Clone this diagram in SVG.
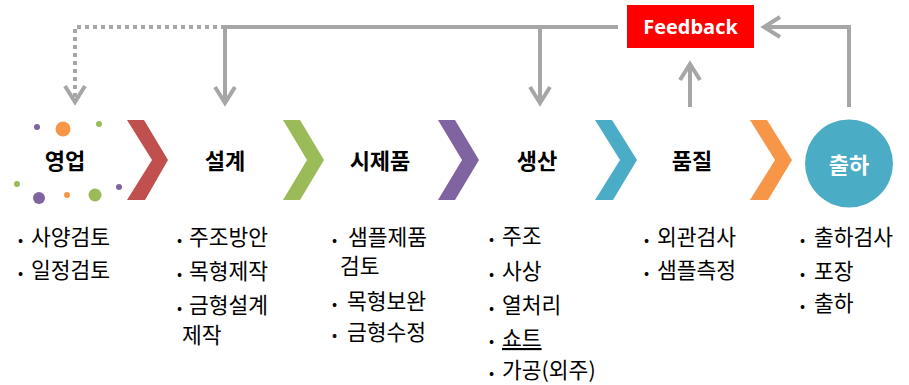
<svg xmlns="http://www.w3.org/2000/svg" width="909" height="385" viewBox="0 0 909 385">
<style>
.ln{fill:none;stroke:#A6A6A6;stroke-width:4}
.dot{stroke-dasharray:4 4}
.hd{font-family:"Noto Sans CJK KR","Noto Sans",sans-serif;font-weight:bold;font-size:22px;fill:#000;text-anchor:middle}
.bl{font-family:"Noto Sans CJK KR","Noto Sans",sans-serif;font-size:21.5px;fill:#000}
.bu{font-size:15px}
</style>
<rect width="909" height="385" fill="#fff"/>
<g id="connectors">
  <polyline class="ln dot" points="225,27 75,27 75,100"/>
  <polyline class="ln" points="65,86 75,102 85,86"/>
  <polyline class="ln" points="618,27 225,27 225,102"/>
  <polyline class="ln" points="215,87 225,103 235,87"/>
  <line class="ln" x1="540" y1="27" x2="540" y2="102"/>
  <polyline class="ln" points="530,87 540,103 550,87"/>
  <line class="ln" x1="690" y1="107" x2="690" y2="65"/>
  <polyline class="ln" points="680,80 690,64 700,80"/>
  <polyline class="ln" points="849,107 849,27 765,27"/>
  <polyline class="ln" points="780,17 764,27 780,37"/>
</g>
<g id="feedback">
  <rect x="627" y="5" width="127" height="43" fill="#FF0000"/>
  <text x="690.5" y="34" text-anchor="middle" font-family="'Open Sans','Noto Sans',sans-serif" font-weight="bold" font-size="20" fill="#fff">Feedback</text>
</g>
<g id="node-sales">
  <circle cx="37" cy="127" r="3" fill="#8064A2"/>
  <circle cx="63" cy="129" r="7.5" fill="#F79646"/>
  <circle cx="99" cy="124" r="3" fill="#9BBB59"/>
  <circle cx="17" cy="184" r="3" fill="#9BBB59"/>
  <circle cx="39" cy="198" r="6" fill="#8064A2"/>
  <circle cx="67" cy="195" r="3" fill="#F79646"/>
  <circle cx="95" cy="195" r="6.5" fill="#9BBB59"/>
  <circle cx="119" cy="187" r="3" fill="#8064A2"/>
  <text class="hd" x="65" y="169">영업</text>
  <text class="bl"><tspan class="bu" x="18" y="245">•</tspan><tspan x="31" y="245">사양검토</tspan></text>
  <text class="bl"><tspan class="bu" x="18" y="278">•</tspan><tspan x="31" y="278">일정검토</tspan></text>
</g>
<polygon points="127,120 144,120 168,160 145,200 127,200 152,160" fill="#C0504D"/>
<g id="node-design">
  <text class="hd" x="225" y="169">설계</text>
  <text class="bl"><tspan class="bu" x="177" y="245">•</tspan><tspan x="189" y="245">주조방안</tspan></text>
  <text class="bl"><tspan class="bu" x="177" y="279">•</tspan><tspan x="189" y="279">목형제작</tspan></text>
  <text class="bl"><tspan class="bu" x="177" y="313">•</tspan><tspan x="189" y="313">금형설계</tspan><tspan x="182" y="343">제작</tspan></text>
</g>
<polygon points="283,120 300,120 324,160 300,200 283,200 307,160" fill="#9BBB59"/>
<g id="node-prototype">
  <text class="hd" x="380" y="169">시제품</text>
  <text class="bl"><tspan class="bu" x="332" y="245">•</tspan><tspan x="348" y="245">샘플제품</tspan><tspan x="340" y="274">검토</tspan></text>
  <text class="bl"><tspan class="bu" x="332" y="309">•</tspan><tspan x="347" y="309">목형보완</tspan></text>
  <text class="bl"><tspan class="bu" x="332" y="340">•</tspan><tspan x="347" y="340">금형수정</tspan></text>
</g>
<polygon points="438,120 455,120 479,160 455,200 438,200 462,160" fill="#8064A2"/>
<g id="node-production">
  <text class="hd" x="537" y="169">생산</text>
  <text class="bl"><tspan class="bu" x="489" y="244">•</tspan><tspan x="502" y="244">주조</tspan></text>
  <text class="bl"><tspan class="bu" x="489" y="279">•</tspan><tspan x="502" y="279">사상</tspan></text>
  <text class="bl"><tspan class="bu" x="489" y="313">•</tspan><tspan x="502" y="313">열처리</tspan></text>
  <text class="bl"><tspan class="bu" x="489" y="346">•</tspan><tspan x="502" y="346" text-decoration="underline">쇼트</tspan></text>
  <text class="bl"><tspan class="bu" x="489" y="378">•</tspan><tspan x="502" y="378">가공(외주)</tspan></text>
</g>
<polygon points="595,120 612,120 637,160 613,200 595,200 620,160" fill="#4BACC6"/>
<g id="node-quality">
  <text class="hd" x="692" y="169">품질</text>
  <text class="bl"><tspan class="bu" x="644" y="245">•</tspan><tspan x="657" y="245">외관검사</tspan></text>
  <text class="bl"><tspan class="bu" x="644" y="278">•</tspan><tspan x="657" y="278">샘플측정</tspan></text>
</g>
<polygon points="750,120 767,120 792,160 768,200 750,200 775,160" fill="#F79646"/>
<g id="node-shipping">
  <circle cx="849" cy="163.5" r="44" fill="#4BACC6"/>
  <text class="hd" x="849" y="173" style="fill:#fff">출하</text>
  <text class="bl"><tspan class="bu" x="800" y="245">•</tspan><tspan x="814" y="245">출하검사</tspan></text>
  <text class="bl"><tspan class="bu" x="800" y="279">•</tspan><tspan x="814" y="279">포장</tspan></text>
  <text class="bl"><tspan class="bu" x="800" y="311">•</tspan><tspan x="814" y="311">출하</tspan></text>
</g>
</svg>
